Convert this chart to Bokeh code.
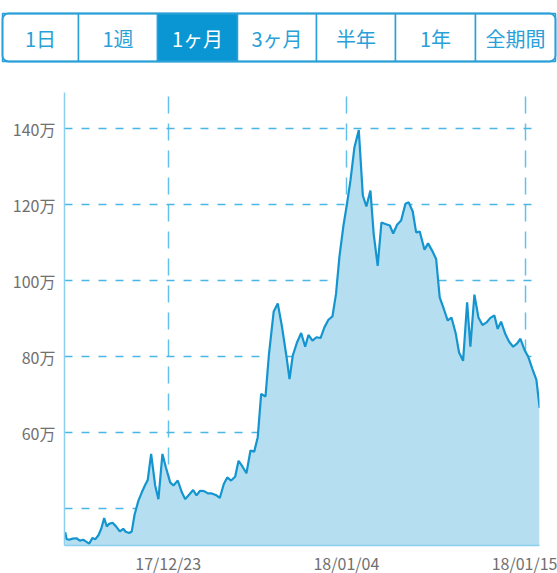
from bokeh.plotting import figure
from bokeh.layouts import column, row
from bokeh.models import Range1d, FixedTicker, ColumnDataSource
from bokeh.core.properties import value
from bokeh.embed import file_html
from bokeh.resources import INLINE

# ---- data ----
buttons = ["1日", "1週", "1ヶ月", "3ヶ月", "半年", "1年", "全期間"]
selected = "1ヶ月"

# time since start (days) and price (万円)
days = [0.05, 0.13, 0.30, 0.52, 0.77, 0.99, 1.21, 1.37, 1.59, 1.81,
        1.98, 2.19, 2.37, 2.56, 2.73, 2.88, 3.10, 3.31, 3.57, 3.79,
        3.95, 4.17, 4.34, 4.52, 4.77, 4.99, 5.21, 5.37, 5.59, 5.85,
        6.06, 6.32, 6.54, 6.82, 7.03, 7.31, 7.57, 7.79, 8.05, 8.30,
        8.52, 8.75, 9.01, 9.25, 9.50, 9.76, 10.02, 10.28, 10.50, 10.75,
        11.01, 11.23, 11.48, 11.74, 12.00, 12.24, 12.47, 12.69, 12.97, 13.19,
        13.50, 13.76, 14.02, 14.30, 14.52, 14.73, 15.01, 15.27, 15.53, 15.74,
        16.00, 16.26, 16.52, 16.77, 17.03, 17.29, 17.52, 17.74, 18.00, 18.24,
        18.45, 18.71, 18.99, 19.25, 19.48, 19.74, 19.95, 20.21, 20.45, 20.71,
        20.99, 21.21, 21.46, 21.72, 22.00, 22.21, 22.47, 22.69, 22.92, 23.23,
        23.46, 23.72, 23.98, 24.21, 24.47, 24.73, 24.97, 25.25, 25.46, 25.72,
        25.98, 26.19, 26.45, 26.71, 26.97, 27.23, 27.48, 27.74, 27.95, 28.17,
        28.43, 28.69, 28.95, 29.21, 29.42, 29.70, 29.92, 30.19, 30.45, 30.66]

price = [33.8, 32.0, 31.8, 32.1, 32.2, 31.6, 31.8, 31.4, 30.8, 32.3,
         31.9, 33.0, 34.7, 37.5, 35.3, 36.0, 36.3, 35.4, 34.0, 34.7,
         33.9, 33.6, 34.0, 38.4, 42.1, 44.3, 46.3, 47.5, 54.4, 46.1,
         42.5, 54.4, 50.9, 46.9, 46.1, 47.4, 44.3, 42.5, 43.7, 44.9,
         43.5, 44.7, 44.6, 44.0, 44.0, 43.6, 42.8, 46.5, 48.2, 47.4,
         48.4, 52.6, 51.1, 49.3, 55.3, 55.0, 58.8, 70.2, 69.5, 80.5,
         91.9, 94.0, 88.2, 80.7, 74.1, 80.3, 83.8, 86.2, 82.6, 85.7,
         84.2, 85.1, 84.9, 87.7, 89.7, 90.6, 96.5, 106.3, 114.5, 120.5,
         126.3, 135.1, 139.6, 122.4, 119.5, 123.7, 112.3, 103.9, 115.3, 114.9,
         114.5, 112.4, 114.7, 115.8, 120.2, 120.6, 118.2, 112.7, 112.9, 108.1,
         109.8, 107.9, 105.7, 95.6, 92.6, 89.5, 90.3, 86.0, 81.1, 78.9,
         94.3, 82.6, 96.3, 90.3, 88.3, 89.0, 90.2, 90.8, 87.3, 89.2,
         86.1, 83.9, 82.6, 83.5, 84.7, 81.6, 80.0, 76.8, 73.9, 66.5]

y_ticks = [40, 60, 80, 100, 120, 140]
y_labels = ["", "60万", "80万", "100万", "120万", "140万"]
x_ticks = [6.69, 18.19, 29.72]
x_labels = ["17/12/23", "18/01/04", "18/01/15"]

FONT = "Noto Sans CJK JP"
BLUE = "#0a96d2"
TXT_BLUE = "#2a9fd8"

# ---- button bar ----
edges = [2, 78, 157, 237, 316, 395, 475, 555]
bsrc = ColumnDataSource(dict(
    left=edges[:-1], right=edges[1:],
    cx=[(a + b) / 2 for a, b in zip(edges[:-1], edges[1:])],
    label=buttons,
    fill=[BLUE if b == selected else "white" for b in buttons],
    tcol=["white" if b == selected else TXT_BLUE for b in buttons],
))

bar = figure(width=557, height=80, x_range=Range1d(0, 557), y_range=Range1d(80, 0),
             x_axis_type=None, y_axis_type=None, toolbar_location=None,
             output_backend="svg", min_border=0, outline_line_color=None)
bar.grid.visible = False
bar.quad(left="left", right="right", top=13, bottom=61, source=bsrc,
         fill_color="fill", line_color=TXT_BLUE, line_width=1.5)
bar.quad(left=edges[0], right=edges[-1], top=13, bottom=61, fill_color=None,
         line_color=TXT_BLUE, line_width=1.8, border_radius=6)
bar.text(x="cx", y=38, text="label", source=bsrc, text_color="tcol",
         text_font=value(FONT), text_font_size="20px",
         text_align="center", text_baseline="middle")

# ---- chart ----
p = figure(frame_width=475, frame_height=453,
           x_range=Range1d(0, 30.65), y_range=Range1d(30.3, 149.5),
           toolbar_location=None, output_backend="svg",
           min_border_left=64, min_border_right=18, min_border_top=12, min_border_bottom=28,
           outline_line_color=None)

p.varea(x=days, y1=0, y2=price, fill_color="#b5def0")
p.line(x=days, y=price, line_color="#1595cf", line_width=2.2)

p.yaxis.ticker = FixedTicker(ticks=y_ticks)
p.yaxis.major_label_overrides = {t: l for t, l in zip(y_ticks, y_labels)}
p.xaxis.ticker = FixedTicker(ticks=x_ticks)
p.xaxis.major_label_overrides = {t: l for t, l in zip(x_ticks, x_labels)}

for ax in (p.xaxis[0], p.yaxis[0]):
    ax.major_tick_line_color = None
    ax.minor_tick_line_color = None
    ax.major_tick_out = 0
    ax.major_tick_in = 0
    ax.minor_tick_out = 0
    ax.axis_line_color = "#8ccfee"
    ax.axis_line_width = 1.5
    ax.major_label_text_font = FONT
    ax.major_label_text_font_size = "16px"
    ax.major_label_text_color = "#707070"
p.yaxis.major_label_standoff = 9
p.xaxis.major_label_standoff = 5

p.ygrid.grid_line_color = "#4ab6e8"
p.ygrid.grid_line_dash = "8 9"
p.ygrid.grid_line_width = 1.5
p.xgrid.grid_line_color = "#62c0ea"
p.xgrid.grid_line_dash = "17 10"
p.xgrid.grid_line_width = 1.5

layout = column(row(bar), p, spacing=0)
open("out.html", "w").write(file_html(layout, INLINE))
